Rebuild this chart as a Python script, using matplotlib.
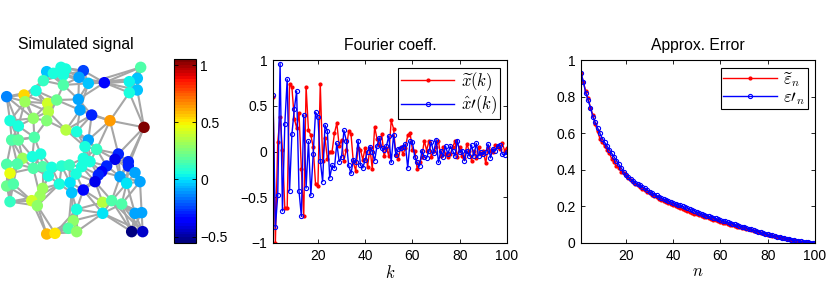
import numpy as np
import matplotlib
matplotlib.use('Agg')
import matplotlib.pyplot as plt
from matplotlib.colors import Normalize

plt.rcParams['font.family'] = ['Liberation Sans', 'DejaVu Sans']
plt.rcParams['mathtext.fontset'] = 'cm'
plt.rcParams['axes.unicode_minus'] = True

# ---------------- data ----------------
# graph node layout (arbitrary layout units) and signal values
node_x = [140, 160, 183, 197, 190, 250, 237, 265, 313, 422, 412, 388, 412, 388, 130, 190, 108, 20, 72, 75,
          143, 170, 235, 145, 240, 275, 30, 55, 100, 140, 330, 432, 198, 230, 35, 55, 103, 265, 255, 290,
          355, 345, 385, 385, 68, 97, 122, 20, 52, 250, 270, 320, 305, 295, 100, 128, 155, 185, 208, 245,
          30, 145, 228, 360, 405, 380, 420, 285, 20, 40, 178, 210, 128, 250, 120, 215, 95, 30, 308, 335,
          365, 112, 230, 308, 405, 425, 220, 140, 165, 205, 230, 395, 428]
node_y = [125, 130, 112, 117, 135, 122, 142, 160, 158, 112, 145, 155, 180, 188, 152, 165, 182, 200, 195, 215,
          220, 210, 208, 245, 240, 255, 272, 288, 265, 272, 272, 292, 300, 305, 330, 330, 322, 330, 350, 358,
          372, 388, 395, 408, 385, 380, 372, 403, 402, 385, 395, 408, 425, 435, 415, 410, 412, 408, 405, 410,
          430, 438, 432, 440, 428, 460, 455, 455, 468, 462, 462, 458, 475, 480, 498, 488, 512, 515, 517, 512,
          522, 527, 538, 550, 550, 548, 572, 612, 610, 595, 605, 605, 605]
node_val = [-0.05, 0.05, 0.05, 0.05, 0.05, -0.25, -0.10, -0.05, -0.35, 0.15, -0.05, 0.03, -0.05, 0.05, 0.12, 0.15, 0.05, -0.15, 0.55, 0.30,
            0.42, 0.20, -0.10, 0.35, -0.10, -0.30, 0.05, 0.05, 0.28, 0.25, 0.65, 1.05, 0.35, 0.05, 0.15, 0.18, 0.15, -0.10, 0.05, 0.12,
            -0.30, -0.40, -0.30, -0.30, 0.30, 0.05, 0.05, 0.15, 0.15, 0.05, 0.05, -0.30, -0.35, -0.30, 0.15, 0.15, 0.05, 0.08, 0.12, 0.05,
            0.45, 0.05, 0.05, -0.10, -0.10, 0.00, -0.10, -0.40, 0.20, 0.15, 0.05, 0.00, 0.30, -0.35, 0.30, -0.05, 0.42, 0.12, 0.35, 0.15,
            0.15, 0.28, 0.05, 0.00, -0.10, -0.10, 0.28, 0.60, 0.50, 0.15, 0.28, -0.55, -0.45]

k = np.arange(1, 101)
coef_tilde = [0.60, -1.00, 0.10, 0.38, 0.02, -0.62, -0.62, 0.74, 0.70, 0.36,
              0.26, 0.42, -0.19, -0.71, 0.71, 0.23, 0.18, 0.05, -0.36, -0.38,
              0.74, -0.10, 0.15, -0.08, 0.00, 0.00, 0.20, 0.31, 0.06, 0.13,
              -0.10, 0.02, 0.22, 0.19, -0.12, -0.21, 0.04, 0.02, -0.09, 0.04,
              -0.17, 0.04, -0.19, 0.27, 0.14, 0.07, 0.19, -0.05, 0.04, -0.05,
              0.34, 0.25, -0.04, -0.08, 0.05, -0.03, 0.04, 0.18, 0.20, 0.02,
              0.01, -0.19, -0.12, -0.06, 0.12, 0.01, 0.12, -0.06, 0.01, 0.05,
              0.11, -0.05, 0.05, -0.03, -0.06, -0.03, 0.05, 0.11, -0.06, 0.05,
              -0.05, -0.07, 0.08, 0.01, -0.10, 0.01, -0.07, 0.05, -0.03, 0.01,
              -0.13, 0.05, 0.01, -0.01, 0.07, 0.05, 0.03, 0.09, 0.01, 0.04]
coef_prime = [0.62, -0.83, -0.48, 0.96, -0.65, 0.30, 0.79, -0.43, 0.19, 0.46,
              0.66, -0.43, -0.71, 0.40, -0.40, 0.11, -0.48, -0.03, 0.43, 0.38,
              -0.10, -0.33, 0.29, 0.22, -0.29, -0.15, -0.18, 0.09, -0.11, -0.06,
              0.23, 0.12, -0.15, -0.24, -0.09, -0.12, 0.12, -0.15, -0.18, -0.09,
              0.00, 0.05, 0.00, -0.10, 0.06, 0.15, 0.04, 0.02, 0.06, 0.17,
              -0.12, 0.18, -0.04, 0.03, 0.04, 0.05, 0.08, -0.18, 0.11, 0.10,
              -0.06, -0.12, -0.16, 0.01, -0.06, -0.07, 0.01, 0.10, -0.02, 0.13,
              -0.12, 0.01, -0.06, 0.06, -0.03, 0.06, 0.01, -0.05, 0.12, -0.01,
              0.01, -0.10, 0.01, -0.05, 0.07, -0.05, 0.09, -0.05, -0.01, -0.03,
              -0.01, 0.08, -0.07, 0.03, 0.01, 0.06, 0.07, -0.03, -0.04, -0.01]

n = np.arange(1, 101)
err_tilde = [0.93, 0.88, 0.83, 0.79, 0.74, 0.70, 0.65, 0.61, 0.57, 0.55,
             0.53, 0.51, 0.49, 0.46, 0.44, 0.42, 0.41, 0.39, 0.38, 0.37,
             0.355, 0.345, 0.335, 0.325, 0.315, 0.305, 0.295, 0.288, 0.28, 0.272,
             0.265, 0.257, 0.25, 0.243, 0.236, 0.23, 0.224, 0.218, 0.212, 0.206,
             0.20, 0.195, 0.19, 0.185, 0.18, 0.175, 0.17, 0.165, 0.16, 0.156,
             0.152, 0.148, 0.144, 0.14, 0.136, 0.132, 0.128, 0.124, 0.12, 0.116,
             0.112, 0.108, 0.104, 0.10, 0.097, 0.094, 0.09, 0.087, 0.084, 0.08,
             0.077, 0.074, 0.07, 0.067, 0.064, 0.06, 0.057, 0.053, 0.05, 0.046,
             0.043, 0.04, 0.037, 0.034, 0.031, 0.028, 0.025, 0.022, 0.02, 0.017,
             0.015, 0.012, 0.01, 0.008, 0.006, 0.005, 0.003, 0.002, 0.001, 0.0]
err_prime = [0.93, 0.88, 0.82, 0.78, 0.74, 0.69, 0.66, 0.63, 0.60, 0.57,
             0.55, 0.53, 0.51, 0.49, 0.47, 0.45, 0.43, 0.41, 0.39, 0.37,
             0.36, 0.35, 0.34, 0.33, 0.32, 0.315, 0.305, 0.30, 0.29, 0.28,
             0.275, 0.265, 0.26, 0.25, 0.245, 0.24, 0.235, 0.23, 0.225, 0.22,
             0.215, 0.21, 0.205, 0.20, 0.195, 0.19, 0.185, 0.18, 0.175, 0.17,
             0.165, 0.16, 0.155, 0.15, 0.146, 0.142, 0.138, 0.134, 0.13, 0.126,
             0.122, 0.118, 0.114, 0.11, 0.106, 0.102, 0.098, 0.094, 0.09, 0.086,
             0.082, 0.078, 0.074, 0.07, 0.066, 0.062, 0.058, 0.054, 0.05, 0.047,
             0.044, 0.041, 0.038, 0.035, 0.032, 0.029, 0.026, 0.023, 0.02, 0.018,
             0.016, 0.013, 0.011, 0.009, 0.007, 0.005, 0.003, 0.002, 0.001, 0.0]

cb_ticks = [-0.5, 0, 0.5, 1]
cb_labels = ['\u22120.5', '0', '0.5', '1']
coef_yticks = [-1, -0.5, 0, 0.5, 1]
coef_ylabels = ['\u22121', '\u22120.5', '0', '0.5', '1']
err_yticks = [0, 0.2, 0.4, 0.6, 0.8, 1]
err_ylabels = ['0', '0.2', '0.4', '0.6', '0.8', '1']
xticks = [20, 40, 60, 80, 100]

# ---------------- figure ----------------
W, H = 830, 305
fig = plt.figure(figsize=(W / 100, H / 100), dpi=100)

def fr(l, t, r, b):
    return [l / W, (H - b) / H, (r - l) / W, (b - t) / H]

FS = 10
TFS = 11.3
cmap = plt.get_cmap('jet', 64)
norm = Normalize(vmin=-0.556, vmax=1.053)

# graph panel
axg = fig.add_axes(fr(0, 55, 160, 250))
px = np.array(node_x, float)
py = np.array(node_y, float)
pts = np.c_[px, py]
d = np.sqrt(((pts[:, None, :] - pts[None, :, :]) ** 2).sum(-1))
edges = set()
for i in range(len(px)):
    for j in np.argsort(d[i])[1:7]:
        edges.add((min(i, j), max(i, j)))
for i, j in edges:
    axg.plot([px[i], px[j]], [py[i], py[j]], color='#a6a6a6', lw=1.5, zorder=1,
             solid_capstyle='round')
axg.scatter(px, py, c=node_val, cmap=cmap, norm=norm, s=68, zorder=2, edgecolors='none')
axg.set_xlim(0, 480)
axg.set_ylim(660, 75)
axg.axis('off')
fig.text(76 / W, 1 - 44 / H, 'Simulated signal', ha='center', va='center', fontsize=TFS)

# colorbar
cax = fig.add_axes(fr(174, 59, 196, 243))
sm = plt.cm.ScalarMappable(norm=norm, cmap=cmap)
cb = fig.colorbar(sm, cax=cax)
cb.set_ticks(cb_ticks)
cb.set_ticklabels(cb_labels)
cax.tick_params(labelsize=FS, direction='in', length=3, width=0.6, left=True, right=True, pad=3)
cb.outline.set_linewidth(0.8)

def style(ax):
    ax.tick_params(direction='in', length=3, width=0.6, top=True, right=True, labelsize=FS, pad=4)
    for s in ax.spines.values():
        s.set_linewidth(0.8)

leg_kw = dict(loc='upper right', fontsize=12, fancybox=False, edgecolor='black',
              handlelength=3.2, borderaxespad=0.45, framealpha=1, borderpad=0.15,
              labelspacing=0.05, handletextpad=0.4)

# Fourier coefficients
ax1 = fig.add_axes(fr(273, 60, 507, 243))
ax1.plot(k, coef_tilde, color='red', lw=1.0, marker='.', ms=4, label=r'$\widetilde{x}(k)$')
ax1.plot(k, coef_prime, color='blue', lw=1.0, marker='o', ms=3, mfc='none', mew=0.8,
         label=r"$\hat{x}\prime(k)$")
ax1.set_xlim(1, 100)
ax1.set_ylim(-1, 1)
ax1.set_xticks(xticks)
ax1.set_yticks(coef_yticks)
ax1.set_yticklabels(coef_ylabels)
ax1.set_title('Fourier coeff.', fontsize=TFS, pad=7)
ax1.set_xlabel(r'$k$', fontsize=12, labelpad=1)
style(ax1)
leg1 = ax1.legend(**leg_kw)
leg1.get_frame().set_linewidth(0.8)

# Approximation error
ax2 = fig.add_axes(fr(581, 60, 815, 243))
ax2.plot(n, err_tilde, color='red', lw=1.0, marker='.', ms=4, label=r'$\widetilde{\varepsilon}_n$')
ax2.plot(n, err_prime, color='blue', lw=1.0, marker='o', ms=3, mfc='none', mew=0.8,
         label=r"$\varepsilon\prime_n$")
ax2.set_xlim(1, 100)
ax2.set_ylim(0, 1)
ax2.set_xticks(xticks)
ax2.set_yticks(err_yticks)
ax2.set_yticklabels(err_ylabels)
ax2.set_title('Approx. Error', fontsize=TFS, pad=7)
ax2.set_xlabel(r'$n$', fontsize=12, labelpad=1)
style(ax2)
leg2 = ax2.legend(**leg_kw)
leg2.get_frame().set_linewidth(0.8)

fig.savefig('out.png', dpi=100)
